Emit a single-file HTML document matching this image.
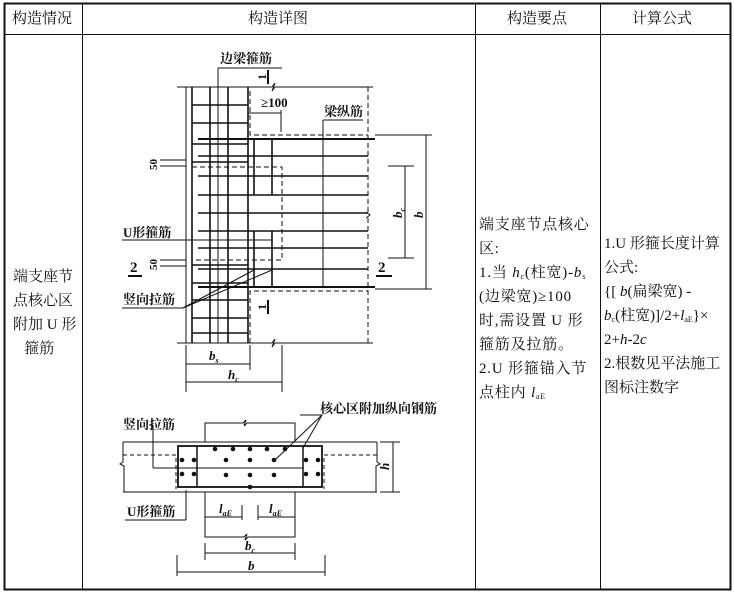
<!DOCTYPE html>
<html><head><meta charset="utf-8"><style>
html,body{margin:0;padding:0;background:#fff;}
body{width:734px;height:594px;position:relative;overflow:hidden;font-family:"Liberation Serif","Noto Serif CJK SC","Noto Sans CJK SC",serif;color:#111;}
.t{position:absolute;font-size:15px;line-height:24px;}
.t sub{font-size:8px;line-height:0;vertical-align:-2px;}
</style></head><body>
<svg width="734" height="594" style="position:absolute;left:0;top:0" xmlns="http://www.w3.org/2000/svg">
<g stroke="#111" fill="none">
<rect x="4.5" y="3.5" width="726" height="586" stroke-width="2"/>
<line x1="4" y1="34.5" x2="731" y2="34.5" stroke-width="1"/>
<line x1="82.5" y1="3" x2="82.5" y2="590"/>
<line x1="475.5" y1="3" x2="475.5" y2="590"/>
<line x1="600.5" y1="3" x2="600.5" y2="590"/>
</g>
<!-- top diagram -->
<g stroke="#111" fill="none" stroke-width="1">
<path d="M177 87 H272 l3 -4 l-3 8 l3 -4 H373"/>
<path d="M177 343 H272 l3 -4 l-3 8 l3 -4 H373"/>
<line x1="186" y1="87" x2="186" y2="343"/>
<line x1="192" y1="87" x2="192" y2="343" stroke-width="1.6"/>
<line x1="210" y1="87" x2="210" y2="343" stroke-width="1.6"/>
<line x1="218" y1="68" x2="218" y2="343"/>
<line x1="228" y1="87" x2="228" y2="343" stroke-width="1.6"/>
<line x1="248" y1="87" x2="248" y2="343" stroke-width="1.6"/>
<g stroke-width="1.6">
<line x1="192" y1="105" x2="248" y2="105"/><line x1="192" y1="123" x2="248" y2="123"/>
<line x1="192" y1="144" x2="248" y2="144"/><line x1="192" y1="162" x2="248" y2="162"/>
<line x1="192" y1="265" x2="248" y2="265"/><line x1="192" y1="283" x2="248" y2="283"/>
<line x1="192" y1="300" x2="248" y2="300"/><line x1="192" y1="318" x2="248" y2="318"/>
<line x1="192" y1="333" x2="248" y2="333"/>
<line x1="198" y1="139" x2="375" y2="139" stroke-width="2"/>
<line x1="198" y1="156" x2="368" y2="156"/>
<line x1="198" y1="176" x2="368" y2="176"/>
<line x1="198" y1="195" x2="368" y2="195"/>
<line x1="198" y1="213" x2="368" y2="213"/>
<line x1="198" y1="231" x2="368" y2="231"/>
<line x1="198" y1="248" x2="368" y2="248"/>
<line x1="198" y1="269" x2="368" y2="269"/>
<line x1="198" y1="287" x2="375" y2="287" stroke-width="2"/>
<line x1="254" y1="139" x2="254" y2="195"/><line x1="272" y1="139" x2="272" y2="195"/>
<line x1="254" y1="231" x2="254" y2="287"/><line x1="272" y1="231" x2="272" y2="287"/>
</g>
<g stroke-dasharray="5,3">
<path d="M250 91 V135 H368"/>
<path d="M250 343 V291 H368"/>
<line x1="368" y1="87" x2="368" y2="212"/><line x1="368" y1="218" x2="368" y2="343"/>
<rect x="192" y="167" width="90" height="93"/>
</g>
<path d="M366 212 l4 3 l-4 3" />
<line x1="323" y1="120" x2="323" y2="287"/>
<line x1="323" y1="120" x2="363" y2="120"/>
<line x1="218" y1="68" x2="282" y2="68"/>
<line x1="248" y1="113" x2="281" y2="113"/><line x1="281" y1="110" x2="281" y2="132"/>
<line x1="160" y1="160" x2="186" y2="160"/><line x1="160" y1="166" x2="186" y2="166"/>
<line x1="160" y1="260" x2="186" y2="260"/><line x1="160" y1="266" x2="186" y2="266"/>
<line x1="122" y1="240" x2="272" y2="240"/>
<line x1="122" y1="308" x2="183" y2="308"/>
<line x1="183" y1="308" x2="254" y2="270"/><line x1="183" y1="308" x2="272" y2="270"/>
<line x1="128" y1="276" x2="142" y2="276" stroke-width="2"/>
<line x1="376" y1="276" x2="392" y2="276" stroke-width="2"/>
<line x1="268" y1="70" x2="268" y2="84" stroke-width="2"/>
<line x1="268" y1="300" x2="268" y2="314" stroke-width="2"/>
<line x1="388" y1="166" x2="414" y2="166"/><line x1="388" y1="258" x2="414" y2="258"/>
<line x1="405" y1="166" x2="405" y2="258"/>
<line x1="375" y1="135" x2="432" y2="135"/><line x1="375" y1="289" x2="432" y2="289"/>
<line x1="426" y1="135" x2="426" y2="289"/>
<line x1="186" y1="345" x2="186" y2="392"/><line x1="250" y1="345" x2="250" y2="370"/><line x1="282" y1="345" x2="282" y2="392"/>
<line x1="186" y1="364" x2="250" y2="364"/><line x1="186" y1="382" x2="282" y2="382"/>
</g>
<g fill="#111" font-family="Liberation Serif,Noto Serif CJK SC,serif" font-weight="bold" font-size="13">
<text x="220" y="63">边梁箍筋</text>
<text x="324" y="116">梁纵筋</text>
<text x="261" y="107">≥100</text>
<text x="123" y="237">U形箍筋</text>
<text x="123" y="304">竖向拉筋</text>
<text x="130" y="272" font-size="15">2</text>
<text x="378" y="272" font-size="15">2</text>
<text x="209" y="360" font-style="italic">b<tspan font-size="8" dy="3">s</tspan></text>
<text x="228" y="379" font-style="italic">h<tspan font-size="8" dy="3">c</tspan></text>
<text transform="translate(402,218) rotate(-90)" font-style="italic">b<tspan font-size="8" dy="3">c</tspan></text>
<text transform="translate(423,218) rotate(-90)" font-style="italic">b</text>
<text transform="translate(157,170) rotate(-90)" font-size="11">50</text>
<text transform="translate(157,270) rotate(-90)" font-size="11">50</text>
<text transform="translate(266,80) rotate(-90)" font-size="12">1</text>
<text transform="translate(266,310) rotate(-90)" font-size="12">1</text>
</g>
<!-- bottom diagram -->
<g stroke="#111" fill="none" stroke-width="1">
<path d="M205 442 V423 H243 l3 -3 l-2 6 l3 -3 H295 V442"/>
<line x1="123" y1="442" x2="377" y2="442"/>
<line x1="123" y1="492" x2="377" y2="492"/>
<path d="M123 442 V462 l-3 2 l4 2 V492"/>
<path d="M377 442 V462 l3 2 l-4 2 V492"/>
<rect x="178" y="446" width="144" height="41" stroke-width="1.8"/>
<line x1="197" y1="446" x2="197" y2="487" stroke-width="1.5"/>
<line x1="303" y1="446" x2="303" y2="487" stroke-width="1.5"/>
<line x1="153" y1="468" x2="303" y2="468"/>
<line x1="153" y1="425" x2="153" y2="468"/>
<g stroke-dasharray="4,3"><path d="M123 455 H176 V489"/><path d="M377 455 H324 V489"/></g>
<path d="M205 492 V537 H244 l3 -3 l-2 6 l3 -3 H295 V492"/>
<line x1="300" y1="415" x2="322" y2="415"/>
<line x1="322" y1="415" x2="275" y2="460"/><line x1="322" y1="415" x2="303" y2="448"/>
<line x1="186" y1="520" x2="186" y2="490"/><line x1="125" y1="520" x2="186" y2="520"/>
<line x1="205" y1="517" x2="242" y2="517"/><line x1="258" y1="517" x2="295" y2="517"/>
<line x1="242" y1="505" x2="242" y2="520"/><line x1="258" y1="505" x2="258" y2="520"/>
<line x1="205" y1="543" x2="205" y2="560"/><line x1="295" y1="543" x2="295" y2="560"/>
<line x1="205" y1="553" x2="295" y2="553"/>
<line x1="177" y1="555" x2="177" y2="576"/><line x1="325" y1="555" x2="325" y2="576"/>
<line x1="177" y1="572" x2="325" y2="572"/>
<line x1="380" y1="442" x2="400" y2="442"/><line x1="380" y1="492" x2="400" y2="492"/>
<line x1="393" y1="442" x2="393" y2="492"/>
</g>
<g fill="#111">
<circle cx="215" cy="449" r="2.3"/><circle cx="233" cy="449" r="2.3"/><circle cx="250" cy="449" r="2.3"/><circle cx="267" cy="449" r="2.3"/><circle cx="285" cy="449" r="2.3"/>
<circle cx="226" cy="460" r="2.3"/><circle cx="250" cy="460" r="2.3"/><circle cx="274" cy="460" r="2.3"/>
<circle cx="226" cy="475" r="2.3"/><circle cx="250" cy="475" r="2.3"/><circle cx="274" cy="475" r="2.3"/>
<circle cx="250" cy="487" r="2.3"/>
<circle cx="182" cy="460" r="2.3"/><circle cx="194" cy="460" r="2.3"/><circle cx="182" cy="474" r="2.3"/><circle cx="194" cy="474" r="2.3"/>
<circle cx="306" cy="460" r="2.3"/><circle cx="318" cy="460" r="2.3"/><circle cx="306" cy="474" r="2.3"/><circle cx="318" cy="474" r="2.3"/>
</g>
<g fill="#111" font-family="Liberation Serif,Noto Serif CJK SC,serif" font-weight="bold" font-size="13">
<text x="123" y="429">竖向拉筋</text>
<text x="320" y="413">核心区附加纵向钢筋</text>
<text x="127" y="516">U形箍筋</text>
<text x="219" y="513" font-style="italic">l<tspan font-size="8" dy="3">aE</tspan></text>
<text x="269" y="513" font-style="italic">l<tspan font-size="8" dy="3">aE</tspan></text>
<text x="245" y="550" font-style="italic">b<tspan font-size="8" dy="3">c</tspan></text>
<text x="248" y="570" font-style="italic">b</text>
<text transform="translate(389,470) rotate(-90)" font-style="italic">h</text>
</g>
</svg>
<div class="t" style="left:12px;top:7px;">构造情况</div>
<div class="t" style="left:248px;top:7px;">构造详图</div>
<div class="t" style="left:507px;top:7px;">构造要点</div>
<div class="t" style="left:632px;top:7px;">计算公式</div>
<div class="t" style="left:13px;top:265px;width:64px;">端支座节<br>点核心区<br>附加 U 形<br>&nbsp;&nbsp;&nbsp;箍筋</div>
<div class="t" style="left:479px;top:213px;width:122px;letter-spacing:0.8px;">端支座节点核心<br>区:<br>1.当 <i>h</i><sub>c</sub>(柱宽)-<i>b</i><sub>s</sub><br>(边梁宽)≥100<br>时,需设置 U 形<br>箍筋及拉筋。<br>2.U 形箍锚入节<br>点柱内 <i>l</i><sub>aE</sub></div>
<div class="t" style="left:604px;top:232px;width:128px;">1.U 形箍长度计算<br>公式:<br>{[ <i>b</i>(扁梁宽) -<br><i>b</i><sub>c</sub>(柱宽)]/2+<i>l</i><sub>aE</sub>}×<br>2+<i>h</i>-2<i>c</i><br>2.根数见平法施工<br>图标注数字</div>
</body></html>
